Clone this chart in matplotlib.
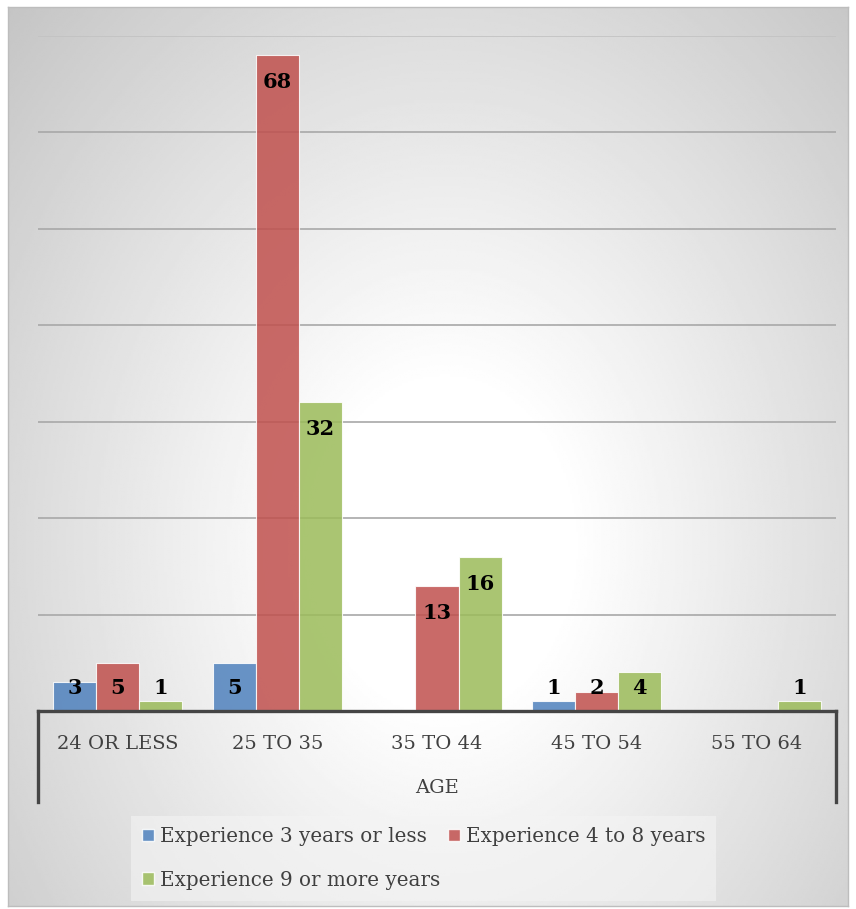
import numpy as np
import matplotlib.pyplot as plt
from matplotlib.patches import Patch
from matplotlib.lines import Line2D

categories = ["24 OR LESS", "25 TO 35", "35 TO 44", "45 TO 54", "55 TO 64"]
series_names = ["Experience 3 years or less", "Experience 4 to 8 years", "Experience 9 or more years"]
exp_3_or_less = [3, 5, 0, 1, 0]
exp_4_to_8 = [5, 68, 13, 2, 0]
exp_9_or_more = [1, 32, 16, 4, 1]
axis_title = "AGE"

colors = ["#4F81BD", "#C0504D", "#9BBB59"]
text_gray = "#404040"
serif = ["DejaVu Serif"]

W, H = 856, 909
fig = plt.figure(figsize=(W / 100, H / 100), dpi=100)

# chart area with soft radial gradient background
bg = fig.add_axes([8 / W, 1 - 906 / H, 840 / W, 899 / H])
yy, xx = np.mgrid[0:1:400j, 0:1:400j]
d = np.sqrt(((xx - 0.52) / 0.5) ** 2 + ((yy - 0.6) / 0.6) ** 2)
shade = 1.0 - 0.14 * np.clip(d - 0.3, 0, None) / 0.7
shade = np.clip(shade, 0.77, 1.0)
bg.imshow(shade, cmap="gray", vmin=0, vmax=1, extent=[0, 1, 0, 1], aspect="auto", zorder=0)
bg.set_xticks([])
bg.set_yticks([])
for s in bg.spines.values():
    s.set_color("#bdbdbd")
    s.set_linewidth(1)

left, right, base, top = 38, 836, 711, 36
ax = fig.add_axes([left / W, 1 - base / H, (right - left) / W, (base - top) / H])
ax.patch.set_alpha(0)

x = np.arange(len(categories))
width = 0.27
for i, (vals, c) in enumerate(zip([exp_3_or_less, exp_4_to_8, exp_9_or_more], colors)):
    pos = x + (i - 1) * width
    v = np.array(vals)
    ax.bar(pos[v > 0], v[v > 0], width, color=c, alpha=0.85, edgecolor="white", linewidth=0.8, zorder=3)
    for p, val in zip(pos, vals):
        if val > 0:
            ax.text(p, max(val - 2.8, 2.4), str(val), ha="center", va="center",
                    fontsize=15, fontweight="bold", family=serif, color="black", zorder=4)

ax.set_xlim(-0.5, len(categories) - 0.5)
ax.set_ylim(0, 70)
for g in range(10, 71, 10):
    ax.axhline(g, color="#c2c2c2" if g == 70 else "#a8a8a8", linewidth=1.2, zorder=1)
ax.set_xticks([])
ax.set_yticks([])
for s in ["top", "left", "right"]:
    ax.spines[s].set_visible(False)
ax.spines["bottom"].set_color("#454545")
ax.spines["bottom"].set_linewidth(2.4)
ax.spines["bottom"].set_zorder(5)

# category labels and multi-level axis frame
for xi, cat in zip(x, categories):
    ax.text(xi, -3.4, cat, ha="center", va="center", fontsize=14, family=serif,
            color=text_gray, clip_on=False)
fig.text(437 / W, 1 - 788 / H, axis_title, ha="center", va="center", fontsize=14,
         family=serif, color=text_gray)
for px in (left, right):
    fig.add_artist(Line2D([px / W, px / W], [1 - base / H, 1 - 802 / H],
                          color="#454545", linewidth=2.4, transform=fig.transFigure))

handles = [Patch(facecolor=c, alpha=0.85, edgecolor="white") for c in colors]
order = [0, 2, 1]
leg = fig.legend([handles[i] for i in order], [series_names[i] for i in order],
                 ncol=2, loc="upper left", bbox_to_anchor=(131 / W, 1 - 816 / H),
                 borderaxespad=0, frameon=True, fancybox=False, facecolor="#f4f4f4",
                 edgecolor="none", framealpha=0.6, prop={"family": serif, "size": 14.3},
                 labelcolor=text_gray, handlelength=0.6, handleheight=0.6,
                 handletextpad=0.3, columnspacing=0.4, borderpad=0.55, labelspacing=1.25)

fig.savefig("out.png", dpi=100)
